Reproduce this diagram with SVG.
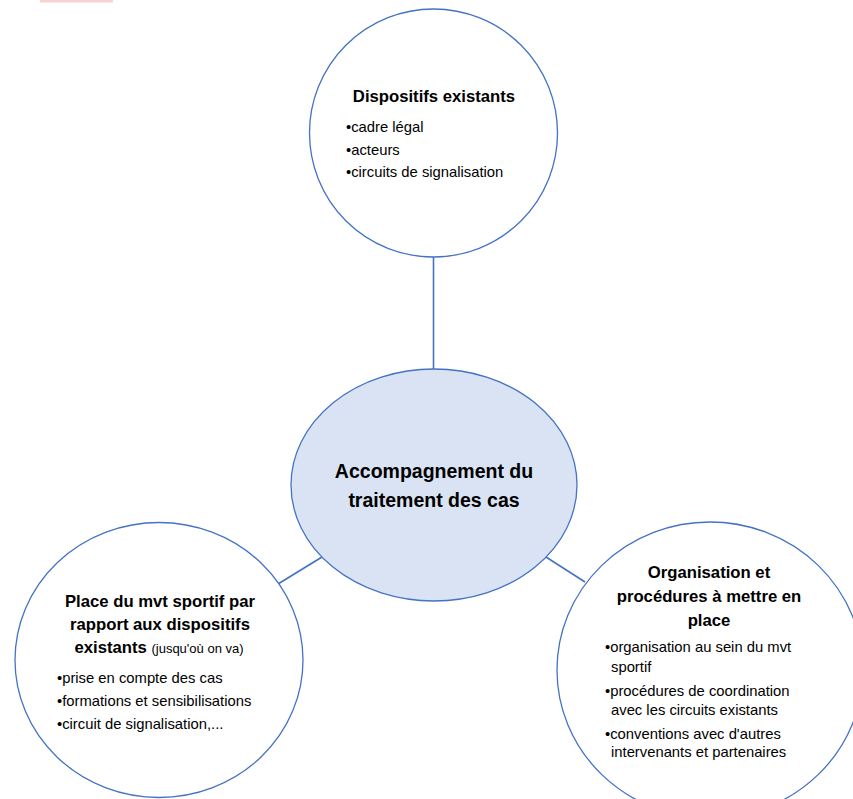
<svg xmlns="http://www.w3.org/2000/svg" width="853" height="799" viewBox="0 0 853 799">
<style>
.node{fill:#ffffff;stroke:#4472c4;stroke-width:1.3}
.center{fill:#dae3f3;stroke:#4472c4;stroke-width:1.3}
.conn{stroke:#4472c4;stroke-width:1.6;fill:none}
text{font-family:"Liberation Sans",Arial,sans-serif;fill:#000}
.t{font-weight:bold;font-size:16.7px;text-anchor:middle}
.b{font-size:14.8px}
.s{font-size:13px;font-weight:normal}
.c{font-weight:bold;font-size:19.5px;text-anchor:middle}
</style>
<rect x="0" y="0" width="853" height="799" fill="#ffffff"/>
<rect x="40" y="0" width="73" height="2.5" fill="#f9d3cf"/>
<g id="connectors">
<line class="conn" x1="433.5" y1="257" x2="433.5" y2="369"/>
<line class="conn" x1="278" y1="584" x2="322" y2="557"/>
<line class="conn" x1="546" y1="557" x2="585" y2="582"/>
</g>
<g id="node-top">
<circle class="node" cx="433.5" cy="133" r="124"/>
<text class="t" x="434" y="102">Dispositifs existants</text>
<text class="b" x="346" y="132">•cadre légal</text>
<text class="b" x="346" y="155">•acteurs</text>
<text class="b" x="346" y="177">•circuits de signalisation</text>
</g>
<g id="node-center">
<ellipse class="center" cx="434" cy="485" rx="143" ry="116"/>
<text class="c" x="434" y="478">Accompagnement du</text>
<text class="c" x="434" y="507">traitement des cas</text>
</g>
<g id="node-left">
<ellipse class="node" cx="159" cy="660" rx="144" ry="137.5"/>
<text class="t" x="160" y="607">Place du mvt sportif par</text>
<text class="t" x="160" y="630">rapport aux dispositifs</text>
<text class="t" x="159" y="653">existants <tspan class="s">(jusqu'où on va)</tspan></text>
<text class="b" x="57" y="683">•prise en compte des cas</text>
<text class="b" x="57" y="706">•formations et sensibilisations</text>
<text class="b" x="57" y="729">•circuit de signalisation,...</text>
</g>
<g id="node-right">
<ellipse class="node" cx="710" cy="670" rx="153" ry="148"/>
<text class="t" x="709" y="578">Organisation et</text>
<text class="t" x="709" y="602">procédures à mettre en</text>
<text class="t" x="709" y="626">place</text>
<text class="b" x="605" y="652">•organisation au sein du mvt</text>
<text class="b" x="611" y="672">sportif</text>
<text class="b" x="605" y="696">•procédures de coordination</text>
<text class="b" x="611" y="715">avec les circuits existants</text>
<text class="b" x="605" y="739">•conventions avec d'autres</text>
<text class="b" x="611" y="757">intervenants et partenaires</text>
</g>
</svg>
